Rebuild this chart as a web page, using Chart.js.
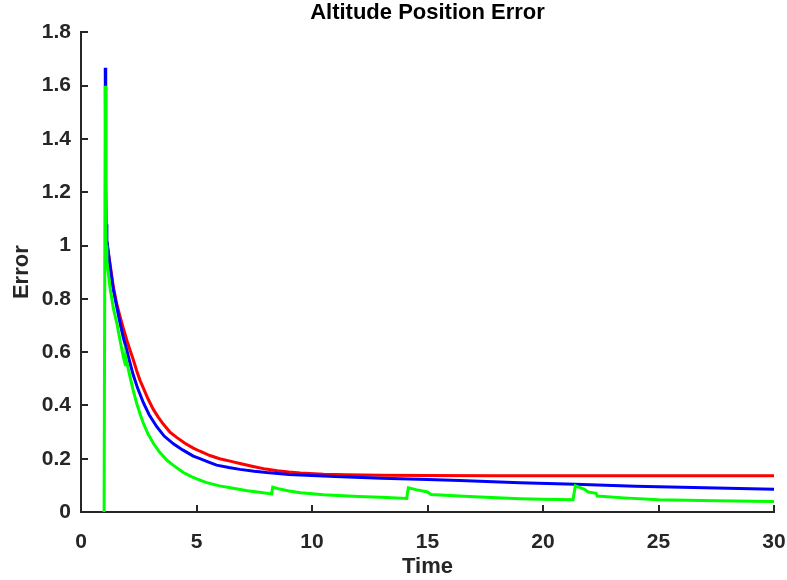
<!DOCTYPE html>
<html>
<head>
<meta charset="utf-8">
<title>Altitude Position Error</title>
<script src="https://cdn.jsdelivr.net/npm/chart.js@4/dist/chart.umd.min.js"></script>
<style>
  html, body { margin: 0; padding: 0; background: #fff; }
  #wrap { width: 787px; height: 580px; }
</style>
</head>
<body>
<div id="wrap"><canvas id="errChart" width="787" height="580"></canvas></div>
<script>
// error traces, each with its own time samples
const redTime = [1.1, 1.26, 1.4, 1.55, 1.7, 1.83, 2.0, 2.12, 2.25, 2.41, 2.55, 2.7, 2.9, 3.13, 3.35, 3.56, 3.85, 4.14, 4.5, 4.86, 5.15, 5.58, 6.0, 6.5, 6.88, 7.5, 8.0, 8.5, 9.0, 9.5, 10.5, 11.5, 13, 15, 18, 22, 26, 30];
const redErr  = [1.02, 0.93, 0.845, 0.78, 0.73, 0.69, 0.64, 0.608, 0.575, 0.53, 0.495, 0.465, 0.425, 0.385, 0.355, 0.33, 0.30, 0.28, 0.258, 0.24, 0.228, 0.212, 0.200, 0.190, 0.182, 0.170, 0.161, 0.155, 0.150, 0.146, 0.142, 0.140, 0.138, 0.137, 0.136, 0.136, 0.136, 0.136];

const blueTime = [1.05, 1.07, 1.09, 1.12, 1.26, 1.4, 1.55, 1.69, 1.83, 1.98, 2.12, 2.26, 2.45, 2.7, 2.95, 3.28, 3.6, 4.0, 4.4, 4.86, 5.15, 5.5, 5.87, 6.4, 6.88, 7.5, 8.04, 9.0, 9.5, 11, 13, 15, 16.4, 19, 21.4, 24, 27, 30];
const blueErr  = [1.667, 1.25, 1.08, 1.02, 0.92, 0.834, 0.77, 0.709, 0.655, 0.608, 0.56, 0.515, 0.465, 0.41, 0.365, 0.32, 0.285, 0.256, 0.233, 0.21, 0.20, 0.188, 0.176, 0.167, 0.160, 0.153, 0.148, 0.141, 0.139, 0.133, 0.127, 0.122, 0.118, 0.110, 0.104, 0.097, 0.091, 0.085];

const greenTime = [1.0, 1.05, 1.07, 1.09, 1.12, 1.18, 1.26, 1.4, 1.55, 1.7, 1.83, 1.92, 1.94, 2.12, 2.25, 2.41, 2.55, 2.7, 2.9, 3.13, 3.4, 3.71, 4.0, 4.43, 4.8, 5.15, 5.44, 6.0, 6.59, 7.2, 7.8, 8.25, 8.3, 8.6, 9.0, 9.5, 10.5, 12, 13, 14.1, 14.17, 14.5, 15.0, 15.15, 16.8, 19, 20, 21.3, 21.4, 21.8, 21.95, 22.3, 22.35, 23.5, 25, 27.5, 30];
const greenErr  = [0, 1.60, 1.20, 1.00, 0.94, 0.90, 0.84, 0.765, 0.709, 0.64, 0.583, 0.553, 0.578, 0.508, 0.46, 0.408, 0.37, 0.333, 0.293, 0.258, 0.225, 0.195, 0.175, 0.148, 0.132, 0.120, 0.110, 0.098, 0.089, 0.080, 0.073, 0.068, 0.093, 0.086, 0.079, 0.072, 0.065, 0.058, 0.055, 0.051, 0.091, 0.084, 0.075, 0.066, 0.058, 0.050, 0.048, 0.046, 0.098, 0.085, 0.075, 0.070, 0.060, 0.053, 0.046, 0.042, 0.039];

const xTicks = [0, 5, 10, 15, 20, 25, 30];
const yTicks = [0, 0.2, 0.4, 0.6, 0.8, 1, 1.2, 1.4, 1.6, 1.8];

const ink = '#262626';
const fontFam = '"Liberation Sans", Arial, Helvetica, sans-serif';

function pts(ts, vs) {
  return ts.map((t, i) => ({ x: t, y: vs[i] }));
}

// short tick marks pointing into the plot, like the old axes style
const innerTicks = {
  id: 'innerTicks',
  beforeDatasetsDraw(chart) {
    const { ctx, scales: { x, y } } = chart;
    const len = 7;
    ctx.save();
    ctx.strokeStyle = ink;
    ctx.lineWidth = 2;
    ctx.beginPath();
    xTicks.forEach(v => {
      const px = Math.round(x.getPixelForValue(v));
      ctx.moveTo(px, y.bottom);
      ctx.lineTo(px, y.bottom - len);
    });
    yTicks.forEach(v => {
      const py = Math.round(y.getPixelForValue(v));
      ctx.moveTo(x.left, py);
      ctx.lineTo(x.left + len, py);
    });
    ctx.stroke();
    ctx.restore();
  }
};

const ctx = document.getElementById('errChart').getContext('2d');

// lower order is painted last, so green sits on top
new Chart(ctx, {
  type: 'line',
  data: {
    datasets: [
      { data: pts(redTime, redErr), borderColor: '#ff0000', order: 3 },
      { data: pts(blueTime, blueErr), borderColor: '#0000ff', order: 2 },
      { data: pts(greenTime, greenErr), borderColor: '#00ff00', order: 1 }
    ].map(d => Object.assign(d, { borderWidth: 3, pointRadius: 0, tension: 0, fill: false, clip: false }))
  },
  options: {
    responsive: false,
    animation: false,
    events: [],
    layout: { padding: { left: 0, right: 0, top: 0, bottom: 0 } },
    plugins: {
      legend: { display: false },
      tooltip: { enabled: false },
      title: {
        display: true,
        fullSize: false,
        text: 'Altitude Position Error',
        color: '#000',
        font: { family: fontFam, size: 22, weight: 'bold' },
        padding: { top: 0, bottom: 6 }
      }
    },
    scales: {
      x: {
        type: 'linear',
        min: 0,
        max: 30,
        afterBuildTicks: s => { s.ticks = xTicks.map(v => ({ value: v })); },
        afterFit: s => { s.height = 68; s.paddingLeft = 0; s.paddingRight = 13; },
        grid: { display: false, drawTicks: false },
        border: { display: true, color: ink, width: 2 },
        ticks: {
          color: ink,
          padding: 18,
          maxRotation: 0,
          font: { family: fontFam, size: 21, weight: 'bold' }
        },
        title: {
          display: true,
          text: 'Time',
          color: ink,
          padding: { top: 0, bottom: 0 },
          font: { family: fontFam, size: 22, weight: 'bold' }
        }
      },
      y: {
        type: 'linear',
        min: 0,
        max: 1.8,
        afterBuildTicks: s => { s.ticks = yTicks.map(v => ({ value: v })); },
        afterFit: s => { s.width = 81; },
        grid: { display: false, drawTicks: false },
        border: { display: true, color: ink, width: 2 },
        ticks: {
          color: ink,
          padding: 10,
          callback: v => String(+v.toFixed(1)),
          font: { family: fontFam, size: 21, weight: 'bold' }
        },
        title: {
          display: true,
          text: 'Error',
          color: ink,
          padding: { top: 9, bottom: 0 },
          font: { family: fontFam, size: 22, weight: 'bold' }
        }
      }
    }
  },
  plugins: [innerTicks]
});
</script>
</body>
</html>
